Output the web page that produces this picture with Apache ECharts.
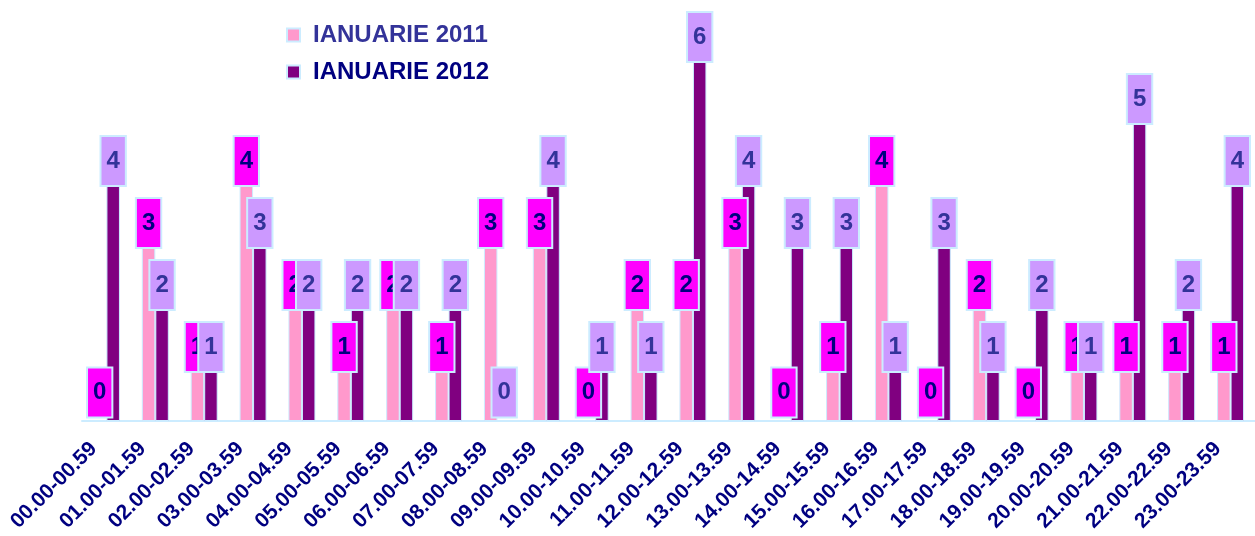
<!DOCTYPE html>
<html lang="ro">
<head>
    <meta charset="UTF-8">
    <title>Ianuarie 2011 / 2012</title>
    <script src="https://cdn.jsdelivr.net/npm/echarts@6/dist/echarts.min.js"></script>
    <style>
        html, body { margin: 0; padding: 0; background: #fff; }
        #chart { width: 1255px; height: 536px; }
    </style>
</head>
<body>
<div id="chart"></div>
<script>
    var hours = ['00.00-00.59', '01.00-01.59', '02.00-02.59', '03.00-03.59', '04.00-04.59', '05.00-05.59',
        '06.00-06.59', '07.00-07.59', '08.00-08.59', '09.00-09.59', '10.00-10.59', '11.00-11.59',
        '12.00-12.59', '13.00-13.59', '14.00-14.59', '15.00-15.59', '16.00-16.59', '17.00-17.59',
        '18.00-18.59', '19.00-19.59', '20.00-20.59', '21.00-21.59', '22.00-22.59', '23.00-23.59'];
    var ian2011 = [0, 3, 1, 4, 2, 1, 2, 1, 3, 3, 0, 2, 2, 3, 0, 1, 4, 0, 2, 0, 1, 1, 1, 1];
    var ian2012 = [4, 2, 1, 3, 2, 2, 2, 2, 0, 4, 1, 1, 6, 4, 3, 3, 1, 3, 1, 2, 1, 5, 2, 4];

    var FONT = 'Arial, "Liberation Sans", sans-serif';

    // zero bars: keep the box sitting just above the axis
    function withLabels(values) {
        return values.map(function (v) {
            return v === 0 ? {value: v, label: {distance: 4}} : v;
        });
    }

    function boxLabel(bg, fg) {
        return {
            show: true,
            position: 'top',
            distance: -12,
            backgroundColor: bg,
            borderColor: '#CCECFF',
            borderWidth: 2,
            padding: [12, 5],
            color: fg,
            fontFamily: FONT,
            fontWeight: 'bold',
            fontSize: 24,
            lineHeight: 24
        };
    }

    var myChart = echarts.init(document.getElementById('chart'));
    var option = {
        animation: false,
        legend: {
            orient: 'vertical',
            left: 281,
            top: 18,
            itemWidth: 13,
            itemHeight: 13,
            itemGap: 13,
            icon: 'rect',
            itemStyle: {borderColor: '#CCECFF', borderWidth: 2},
            textStyle: {
                fontFamily: FONT,
                fontWeight: 'bold',
                fontSize: 24,
                padding: [0, 0, 0, 8]
            },
            data: [
                {name: 'IANUARIE 2011', textStyle: {color: '#333399'}},
                {name: 'IANUARIE 2012', textStyle: {color: '#000080'}}
            ]
        },
        grid: {left: 82, top: 49, bottom: 115, width: 1181},
        xAxis: {
            type: 'category',
            data: hours,
            axisLine: {lineStyle: {color: '#CCECFF', width: 2}},
            axisTick: {length: 6, lineStyle: {color: '#CCECFF', width: 2}},
            axisLabel: {
                rotate: 45,
                interval: 0,
                margin: 12,
                padding: [0, 18, 0, 0],
                color: '#000080',
                fontFamily: FONT,
                fontWeight: 'bold',
                fontSize: 21
            }
        },
        yAxis: {
            type: 'value',
            min: 0,
            max: 6,
            show: false,
            splitLine: {show: false}
        },
        series: [
            {
                name: 'IANUARIE 2011',
                type: 'bar',
                barWidth: 13.5,
                barGap: '0%',
                itemStyle: {color: '#FF99CC', borderColor: '#CCECFF', borderWidth: 1},
                label: boxLabel('#FF00FF', '#000080'),
                data: withLabels(ian2011)
            },
            {
                name: 'IANUARIE 2012',
                type: 'bar',
                barWidth: 13.5,
                barGap: '0%',
                itemStyle: {color: '#800080', borderColor: '#CCECFF', borderWidth: 1},
                label: boxLabel('#CC99FF', '#333399'),
                data: withLabels(ian2012)
            }
        ]
    };
    myChart.setOption(option);
</script>
</body>
</html>
